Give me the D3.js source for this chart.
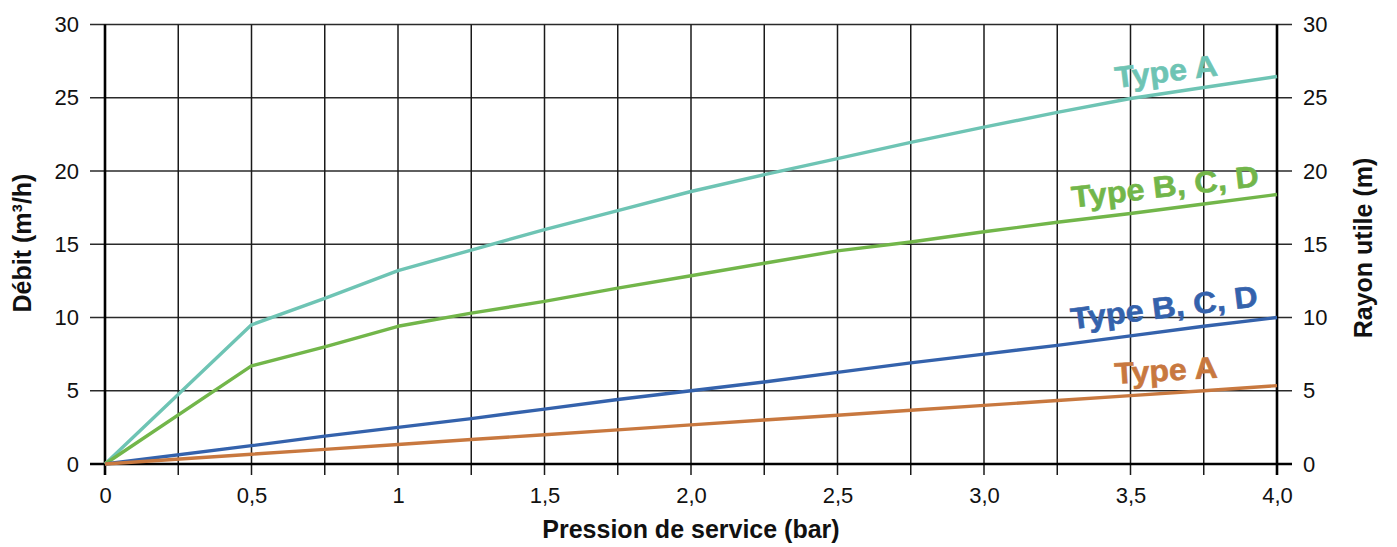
<!DOCTYPE html>
<html>
<head>
<meta charset="utf-8">
<script src="https://cdn.jsdelivr.net/npm/d3@7"></script>
<style>
  html, body { margin: 0; padding: 0; background: #fff; }
  svg { display: block; font-family: "Liberation Sans", Arial, Helvetica, sans-serif; }
</style>
</head>
<body>
<svg id="chart" width="1397" height="547"></svg>
<script>
// ---- data ----
const pressure = [0, 0.5, 0.75, 1, 1.25, 1.5, 1.75, 2, 2.25, 2.5, 2.75, 3, 3.25, 3.5, 3.75, 4];
const debitTypeA   = [0, 9.5, 11.3, 13.2, 14.6, 16.0, 17.3, 18.6, 19.75, 20.85, 21.95, 23.0, 24.0, 24.95, 25.7, 26.45];
const debitTypeBCD = [0, 6.7, 8.0, 9.4, 10.3, 11.1, 12.0, 12.85, 13.7, 14.55, 15.15, 15.85, 16.5, 17.1, 17.75, 18.4];
const rayonTypeBCD = [0, 1.25, 1.9, 2.5, 3.1, 3.75, 4.4, 5.0, 5.6, 6.25, 6.9, 7.5, 8.1, 8.75, 9.4, 10.0];
const rayonTypeA   = [0, 0.67, 1.0, 1.33, 1.67, 2.0, 2.33, 2.67, 3.0, 3.33, 3.67, 4.0, 4.33, 4.67, 5.0, 5.35];
const xTickValues = [0, 0.5, 1, 1.5, 2, 2.5, 3, 3.5, 4];
const xTickLabels = ["0", "0,5", "1", "1,5", "2,0", "2,5", "3,0", "3,5", "4,0"];
const xGridValues = [0, 0.25, 0.5, 0.75, 1, 1.25, 1.5, 1.75, 2, 2.25, 2.5, 2.75, 3, 3.25, 3.5, 3.75, 4];
const yTickValues = [0, 5, 10, 15, 20, 25, 30];
const seriesNames = ["Type A", "Type B, C, D", "Type B, C, D", "Type A"];
const seriesColors = ["#6ec4b4", "#72b64a", "#3462ac", "#c8783f"];

// ---- layout ----
const svg = d3.select("#chart");
const L = 105, R = 1277, T = 24.5, B = 464;
const x = d3.scaleLinear().domain([0, 4]).range([L, R]);
const yL = d3.scaleLinear().domain([0, 30]).range([B, T]);
const yR = d3.scaleLinear().domain([0, 30]).range([B, T]);

// gridlines
const grid = svg.append("g");
grid.selectAll("line.h").data(yTickValues).enter().append("line")
  .attr("x1", L - 15).attr("x2", R + 15)
  .attr("y1", d => yL(d)).attr("y2", d => yL(d))
  .attr("stroke", "#2a2a2a").attr("stroke-width", 1.5);
grid.selectAll("line.v").data(xGridValues).enter().append("line")
  .attr("x1", d => x(d)).attr("x2", d => x(d))
  .attr("y1", T).attr("y2", B + 11)
  .attr("stroke", "#1a1a1a").attr("stroke-width", 1.5);

// main axis lines
svg.append("line").attr("x1", L).attr("x2", L).attr("y1", T).attr("y2", B + 11)
  .attr("stroke", "#000").attr("stroke-width", 2.6);
svg.append("line").attr("x1", R).attr("x2", R).attr("y1", T).attr("y2", B + 11)
  .attr("stroke", "#000").attr("stroke-width", 2.6);
svg.append("line").attr("x1", L - 15).attr("x2", R + 15).attr("y1", B).attr("y2", B)
  .attr("stroke", "#000").attr("stroke-width", 2.6);

// axes labels via d3 axes (no tick lines, no domain)
const axL = svg.append("g").attr("transform", `translate(${L - 26},0)`)
  .call(d3.axisLeft(yL).tickValues(yTickValues).tickSize(0).tickPadding(0));
const axR = svg.append("g").attr("transform", `translate(${R + 26},0)`)
  .call(d3.axisRight(yR).tickValues(yTickValues).tickSize(0).tickPadding(0));
const axB = svg.append("g").attr("transform", `translate(0,${B + 23})`)
  .call(d3.axisBottom(x).tickValues(xTickValues).tickSize(0).tickPadding(0)
    .tickFormat((d, i) => xTickLabels[i]));
[axL, axR, axB].forEach(a => {
  a.select(".domain").remove();
  a.selectAll("text").attr("font-size", 22).attr("fill", "#111")
    .attr("font-family", "Liberation Sans, Arial, sans-serif");
});
axB.selectAll("text").attr("dy", "0.71em");

// lines
const series = [debitTypeA, debitTypeBCD, rayonTypeBCD, rayonTypeA];
const yScales = [yL, yL, yR, yR];
series.forEach((vals, i) => {
  const line = d3.line().x((d, j) => x(pressure[j])).y(d => yScales[i](d));
  svg.append("path").datum(vals)
    .attr("d", line)
    .attr("fill", "none")
    .attr("stroke", seriesColors[i])
    .attr("stroke-width", 3.4)
    .attr("stroke-linejoin", "round");
});

// series labels
const labelPos = [
  {cx: 1166, cy: 71, a: -7, w: 103},
  {cx: 1165, cy: 186, a: -6.5, w: 188},
  {cx: 1164, cy: 307, a: -7, w: 188},
  {cx: 1166, cy: 370, a: -3.5, w: 103}
];
labelPos.forEach((p, i) => {
  svg.append("text")
    .attr("transform", `translate(${p.cx},${p.cy}) rotate(${p.a})`)
    .attr("text-anchor", "middle")
    .attr("dy", "0.36em")
    .attr("font-size", 30)
    .attr("font-weight", "bold")
    .attr("fill", seriesColors[i])
    .attr("stroke", seriesColors[i])
    .attr("stroke-width", 0.6)
    .attr("textLength", p.w)
    .attr("lengthAdjust", "spacingAndGlyphs")
    .text(seriesNames[i]);
});

// axis titles
svg.append("text")
  .attr("x", 691).attr("y", 538)
  .attr("text-anchor", "middle")
  .attr("font-size", 25).attr("font-weight", "bold").attr("fill", "#111")
  .text("Pression de service (bar)");
svg.append("text")
  .attr("transform", "translate(31,243) rotate(-90)")
  .attr("text-anchor", "middle")
  .attr("font-size", 25).attr("font-weight", "bold").attr("fill", "#111")
  .text("Débit (m³/h)");
svg.append("text")
  .attr("transform", "translate(1372,248) rotate(-90)")
  .attr("text-anchor", "middle")
  .attr("font-size", 25).attr("font-weight", "bold").attr("fill", "#111")
  .text("Rayon utile (m)");
</script>
</body>
</html>
